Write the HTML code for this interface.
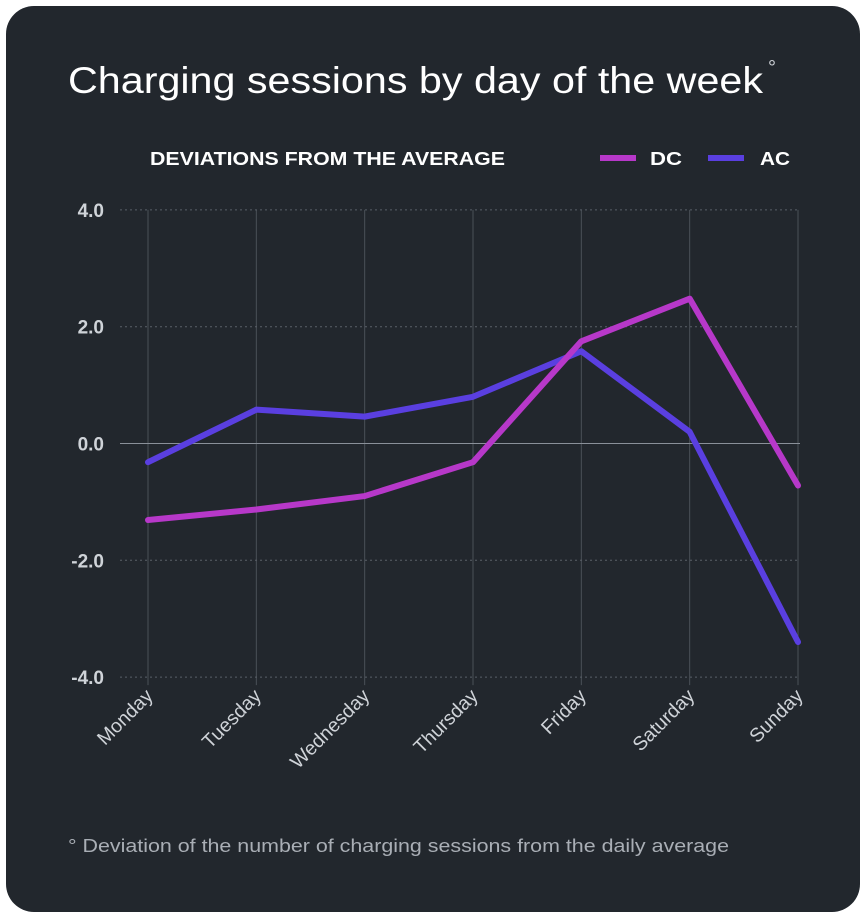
<!DOCTYPE html>
<html><head><meta charset="utf-8"><style>
body{margin:0;background:#fff;width:866px;height:918px;overflow:hidden;font-family:"Liberation Sans",sans-serif}
.card{position:absolute;left:6px;top:6px;width:854px;height:906px;border-radius:28px;background:#22272d}
</style></head><body>
<div class="card"></div>
<svg id="c" width="866" height="918" style="position:absolute;left:0;top:0">
<text x="68" y="93" fill="#fff" font-size="37" textLength="695" lengthAdjust="spacingAndGlyphs">Charging sessions by day of the week</text>
<text x="768" y="74" fill="#cfd3d8" font-size="20">°</text>
<text x="150" y="165" fill="#fff" font-size="18.5" font-weight="bold" textLength="355" lengthAdjust="spacingAndGlyphs">DEVIATIONS FROM THE AVERAGE</text>
<g><line x1="600" y1="158" x2="636" y2="158" stroke="#b738c9" stroke-width="6"/><text x="650" y="165" fill="#fff" font-size="18.5" font-weight="bold" textLength="32" lengthAdjust="spacingAndGlyphs">DC</text></g>
<g><line x1="708" y1="158" x2="744" y2="158" stroke="#5a3fe0" stroke-width="6"/><text x="760" y="165" fill="#fff" font-size="18.5" font-weight="bold" textLength="30" lengthAdjust="spacingAndGlyphs">AC</text></g>
<g id="plot"></g>
<text x="68" y="852" fill="#a9aeb5" font-size="18.5" textLength="661" lengthAdjust="spacingAndGlyphs">° Deviation of the number of charging sessions from the daily average</text>
</svg>
<script>
const days=["Monday","Tuesday","Wednesday","Thursday","Friday","Saturday","Sunday"];
const dcValues=[-1.31,-1.13,-0.9,-0.32,1.75,2.48,-0.72];
const acValues=[-0.32,0.58,0.46,0.8,1.58,0.2,-3.4];
const yTicks=[4,2,0,-2,-4];
const yTickLabels=["4.0","2.0","0.0","-2.0","-4.0"];
const NS="http://www.w3.org/2000/svg";
const g=document.getElementById('plot');
const x=i=>148+i*(650/6);
const y=v=>443.5-v*58.4;
function mk(t,a){const e=document.createElementNS(NS,t);for(const k in a)e.setAttribute(k,a[k]);g.appendChild(e);return e;}
days.forEach((d,i)=>{
  const l=mk('line',{x1:x(i),x2:x(i),y1:y(4),y2:y(-4)+8,stroke:'#4a5058','stroke-width':1});
  
  
  const t=mk('text',{x:x(i)+6,y:y(-4)+20,fill:'#cfd3d8','font-size':19.5,'text-anchor':'end',transform:`rotate(-45 ${x(i)+6} ${y(-4)+20})`});
  t.textContent=d;
  
  
});
yTicks.forEach((v,i)=>{
  const l=mk('line',{x1:120,x2:800,y1:y(v),y2:y(v),stroke:v===0?'#8a9099':'#5a6068','stroke-width':1,'stroke-dasharray':v===0?'':'2 3'});
  
  
  const t=mk('text',{x:104,y:y(v)+7,fill:'#cfd3d8','font-size':19,'font-weight':'bold','text-anchor':'end'});
  t.textContent=yTickLabels[i];
  
  
});
function series(vals,color,name){
  const p=mk('polyline',{points:vals.map((v,i)=>x(i)+','+y(v)).join(' '),fill:'none',stroke:color,'stroke-width':6,'stroke-linejoin':'round','stroke-linecap':'round'});
  
  
}
series(acValues,'#5a3fe0','ac-line');
series(dcValues,'#b738c9','dc-line');
</script>
</body></html>
